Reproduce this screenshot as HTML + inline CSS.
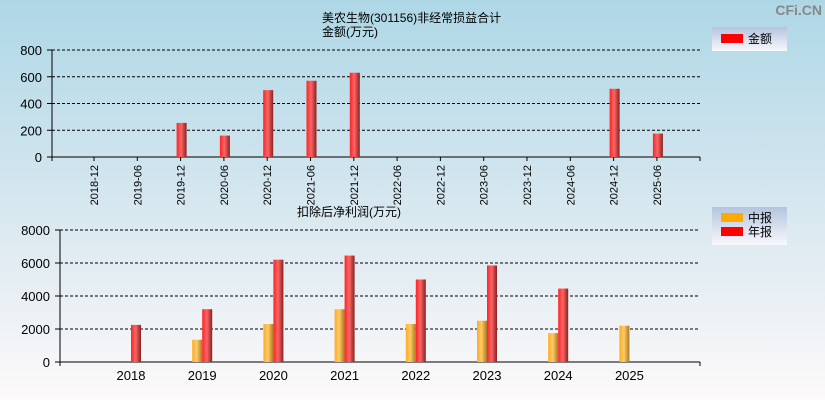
<!DOCTYPE html>
<html><head><meta charset="utf-8"><style>
body{margin:0;width:825px;height:400px;overflow:hidden;font-family:"Liberation Sans","Noto Sans CJK SC",sans-serif}
svg text{font-family:"Liberation Sans","Noto Sans CJK SC",sans-serif}
</style></head><body>
<svg id="c" width="825" height="400" xmlns="http://www.w3.org/2000/svg">
<defs>
<linearGradient id="bg" x1="0" y1="0" x2="0" y2="1"><stop offset="0" stop-color="#aed7e6"/><stop offset="0.6" stop-color="#deeaf1"/><stop offset="1" stop-color="#fdfafa"/></linearGradient>
<linearGradient id="rb" x1="0" y1="0" x2="1" y2="0"><stop offset="0" stop-color="#f22"/><stop offset="0.45" stop-color="#f66"/><stop offset="1" stop-color="#822"/></linearGradient>
<linearGradient id="ob" x1="0" y1="0" x2="1" y2="0"><stop offset="0" stop-color="#fa2"/><stop offset="0.45" stop-color="#fc6"/><stop offset="1" stop-color="#a72"/></linearGradient>
<linearGradient id="lg" x1="0" y1="0" x2="0" y2="1"><stop offset="0" stop-color="#b4c4de"/><stop offset="1" stop-color="#f8f8fc"/></linearGradient>
</defs>
<rect width="825" height="400" fill="url(#bg)"/>
<text x="822" y="15" font-size="14" font-weight="bold" fill="#888" text-anchor="end">CFi.CN</text>
<text x="322" y="22" font-size="12">美农生物(301156)非经常损益合计</text>
<text x="322" y="36" font-size="12">金额(万元)</text>
<text x="297" y="216" font-size="12">扣除后净利润(万元)</text>
<g><rect x="712" y="27" width="75" height="24" fill="url(#lg)"/><rect x="721" y="34" width="22" height="9" fill="#f00"/><text x="748" y="43" font-size="12">金额</text></g>
<g><rect x="712" y="207" width="75" height="38" fill="url(#lg)"/><rect x="721" y="213" width="22" height="9" fill="#fa0"/><text x="748" y="222" font-size="12">中报</text><rect x="721" y="227" width="22" height="9" fill="#f00"/><text x="748" y="236" font-size="12">年报</text></g>
<g id="top"></g><g id="bot"></g>
</svg>
<script>
const topCats=["2018-12","2019-06","2019-12","2020-06","2020-12","2021-06","2021-12","2022-06","2022-12","2023-06","2023-12","2024-06","2024-12","2025-06"];
const topVals=[0,0,255,160,500,570,630,0,0,0,0,0,510,175];
const topTicks=[0,200,400,600,800];
const botCats=["2018","2019","2020","2021","2022","2023","2024","2025"];
const botMid=[null,1350,2300,3200,2300,2500,1750,2200];
const botAnnual=[2250,3200,6200,6450,5000,5850,4450,null];
const botTicks=[0,2000,4000,6000,8000];
const NS="http://www.w3.org/2000/svg";
function mk(p,t,a){const e=document.createElementNS(NS,t);for(const k in a)e.setAttribute(k,a[k]);p.appendChild(e);return e;}
const T=document.getElementById('top');
const ty=v=>157-v/800*107, tx=i=>94+i*43.3;
topTicks.forEach(v=>{
 if(v>0){const l=mk(T,'line',{x1:52,x2:700,y1:ty(v),y2:ty(v),stroke:'#000','stroke-dasharray':'3,2'});}
 mk(T,'line',{x1:47,x2:52,y1:ty(v),y2:ty(v),stroke:'#000'});
 const t=mk(T,'text',{x:42,y:ty(v)+5,'font-size':13,'text-anchor':'end'});t.textContent=v;
 
});
mk(T,'line',{x1:52,x2:52,y1:50,y2:161,stroke:'#000'});
mk(T,'line',{x1:52,x2:700,y1:157,y2:157,stroke:'#000'});
mk(T,'line',{x1:700,x2:700,y1:157,y2:161,stroke:'#000'});
topCats.forEach((c,i)=>{
 const x=tx(i);mk(T,'line',{x1:x,x2:x,y1:157,y2:161,stroke:'#000'});
 const t=mk(T,'text',{x:0,y:0,'font-size':11,'text-anchor':'end',transform:`translate(${x+4},165) rotate(-90)`});t.textContent=c;
 
 if(topVals[i]>0){const b=mk(T,'rect',{x:x-4,y:ty(topVals[i]),width:10,height:157-ty(topVals[i]),fill:'url(#rb)'});
 }
});
const B=document.getElementById('bot');
const by=v=>362-v/8000*132, bx=i=>131+i*71.2;
botTicks.forEach(v=>{
 if(v>0){const l=mk(B,'line',{x1:60,x2:700,y1:by(v),y2:by(v),stroke:'#000','stroke-dasharray':'3,2'});}
 mk(B,'line',{x1:55,x2:60,y1:by(v),y2:by(v),stroke:'#000'});
 const t=mk(B,'text',{x:50,y:by(v)+5,'font-size':13,'text-anchor':'end'});t.textContent=v;
 
});
mk(B,'line',{x1:60,x2:60,y1:230,y2:366,stroke:'#000'});
mk(B,'line',{x1:60,x2:700,y1:362,y2:362,stroke:'#000'});
mk(B,'line',{x1:700,x2:700,y1:362,y2:366,stroke:'#000'});
botCats.forEach((c,i)=>{
 const x=bx(i);
 const t=mk(B,'text',{x:x,y:380,'font-size':13,'text-anchor':'middle'});t.textContent=c;
 
 if(botMid[i]!=null){const b=mk(B,'rect',{x:x-10,y:by(botMid[i]),width:10,height:362-by(botMid[i]),fill:'url(#ob)'});
 }
 if(botAnnual[i]!=null){const b=mk(B,'rect',{x:x,y:by(botAnnual[i]),width:10,height:362-by(botAnnual[i]),fill:'url(#rb)'});
 }
});
</script>
</body></html>
